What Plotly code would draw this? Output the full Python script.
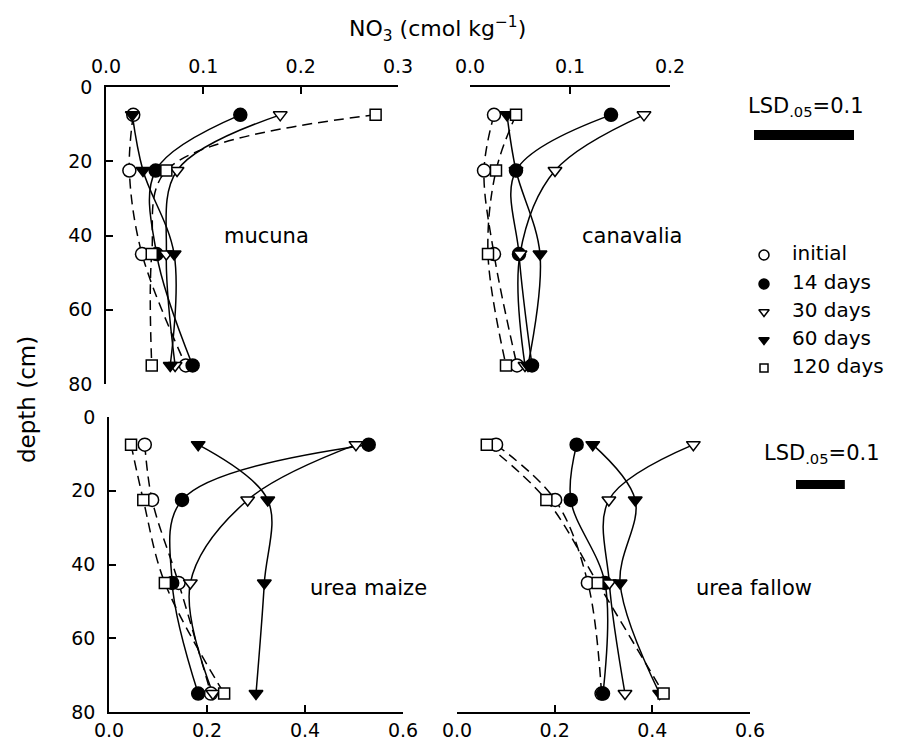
import plotly.graph_objects as go

W, H = 901, 747

depth = [7.5, 22.5, 45, 75]
series_names = ["initial", "14 days", "30 days", "60 days", "120 days"]

mucuna_initial = [0.028, 0.024, 0.037, 0.082]
mucuna_d14 = [0.138, 0.051, 0.052, 0.089]
mucuna_d30 = [0.179, 0.073, 0.062, 0.071]
mucuna_d60 = [0.027, 0.038, 0.070, 0.066]
mucuna_d120 = [0.277, 0.062, 0.047, 0.047]

canavalia_initial = [0.024, 0.014, 0.024, 0.047]
canavalia_d14 = [0.141, 0.046, 0.049, 0.062]
canavalia_d30 = [0.174, 0.085, 0.050, 0.055]
canavalia_d60 = [0.037, 0.046, 0.070, 0.058]
canavalia_d120 = [0.046, 0.026, 0.018, 0.036]

maize_initial = [0.073, 0.088, 0.142, 0.208]
maize_d14 = [0.530, 0.149, 0.129, 0.182]
maize_d30 = [0.504, 0.283, 0.166, 0.212]
maize_d60 = [0.182, 0.324, 0.317, 0.300]
maize_d120 = [0.045, 0.070, 0.114, 0.235]

fallow_initial = [0.080, 0.201, 0.268, 0.296]
fallow_d14 = [0.245, 0.233, 0.303, 0.299]
fallow_d30 = [0.484, 0.311, 0.312, 0.344]
fallow_d60 = [0.278, 0.365, 0.334, 0.415]
fallow_d120 = [0.061, 0.183, 0.288, 0.423]

panel_labels = ["mucuna", "canavalia", "urea maize", "urea fallow"]
lsd_value = 0.1

panels = [
    [mucuna_initial, mucuna_d14, mucuna_d30, mucuna_d60, mucuna_d120],
    [canavalia_initial, canavalia_d14, canavalia_d30, canavalia_d60, canavalia_d120],
    [maize_initial, maize_d14, maize_d30, maize_d60, maize_d120],
    [fallow_initial, fallow_d14, fallow_d30, fallow_d60, fallow_d120],
]

# styles
symbols = ["circle", "circle", "triangle-down", "triangle-down", "square"]
fills = ["white", "black", "white", "black", "white"]
msizes = [13, 13, 12, 12, 11]
dashes = ["10px,6px", "solid", "solid", "solid", "10px,6px"]

FONT = "DejaVu Sans"

# pixel boxes of the panels: (x0, x1, ytop, ybottom)
boxes = [
    (106, 398, 87, 384),
    (470, 670, 87, 384),
    (109, 403, 417, 712),
    (457, 750, 417, 712),
]
xranges = [[0, 0.3], [0, 0.2], [0, 0.6], [0, 0.6]]
xdticks = [0.1, 0.1, 0.2, 0.2]
label_pos = [(0.165, 40, 0), (0.162, 40, 0), (0.53, 46.5, 0), (0.59, 46.5, 9)]

# legend block placement (pixels)
legend_marker_x = 764
legend_text_x = 792
legend_rows = [255, 284, 312, 340, 368]

fig = go.Figure()

for i, data in enumerate(panels):
    xa = "x" if i == 0 else f"x{i+1}"
    ya = "y" if i == 0 else f"y{i+1}"
    for s in range(5):
        fig.add_trace(go.Scatter(
            x=data[s], y=depth, xaxis=xa, yaxis=ya, mode="lines",
            line=dict(color="black", width=1.5, shape="spline", smoothing=1.0, dash=dashes[s]),
            showlegend=False, hoverinfo="skip"))
    for s in range(5):
        fig.add_trace(go.Scatter(
            x=data[s], y=depth, xaxis=xa, yaxis=ya, mode="markers",
            marker=dict(symbol=symbols[s], size=msizes[s], color=fills[s],
                        line=dict(color="black", width=1.5)),
            showlegend=False, cliponaxis=False))

# legend drawn on a hidden pixel-space overlay axis
for s in range(5):
    fig.add_trace(go.Scatter(
        x=[legend_marker_x], y=[legend_rows[s]], xaxis="x5", yaxis="y5",
        mode="markers",
        marker=dict(symbol=symbols[s], size=msizes[s] - 3, color=fills[s],
                    line=dict(color="black", width=1.5)),
        showlegend=False, cliponaxis=False, hoverinfo="skip"))
fig.add_trace(go.Scatter(
    x=[legend_text_x] * 5, y=legend_rows, xaxis="x5", yaxis="y5",
    mode="text", text=series_names, textposition="middle right",
    textfont=dict(size=20, family=FONT, color="black"),
    showlegend=False, cliponaxis=False, hoverinfo="skip"))

layout = dict(
    width=W, height=H, margin=dict(l=0, r=0, t=0, b=0, pad=0, autoexpand=False),
    paper_bgcolor="white", plot_bgcolor="rgba(0,0,0,0)",
    font=dict(family=FONT, size=19, color="black"),
    showlegend=False,
    xaxis5=dict(domain=[0, 1], range=[0, W], anchor="y5", visible=False, fixedrange=True),
    yaxis5=dict(domain=[0, 1], range=[H, 0], anchor="x5", visible=False, fixedrange=True),
)

for i, (x0, x1, yt, yb) in enumerate(boxes):
    xk = "xaxis" if i == 0 else f"xaxis{i+1}"
    yk = "yaxis" if i == 0 else f"yaxis{i+1}"
    ya = "y" if i == 0 else f"y{i+1}"
    xa = "x" if i == 0 else f"x{i+1}"
    top = i < 2
    left = i in (0, 2)
    layout[xk] = dict(
        domain=[x0 / W, x1 / W], range=xranges[i], anchor=ya,
        side="top" if top else "bottom", automargin=False,
        showline=True, linecolor="black", linewidth=1.5,
        ticks="inside", ticklen=7, tickwidth=1.5, tickcolor="black",
        dtick=xdticks[i], tick0=0, tickformat=".1f",
        showgrid=False, zeroline=False,
        ticklabelstandoff=5 if top else 0,
        tickfont=dict(size=19, family=FONT),
    )
    layout[yk] = dict(
        domain=[1 - yb / H, 1 - yt / H], range=[80, 0], anchor=xa, automargin=False,
        showline=left, linecolor="black", linewidth=1.5,
        ticks="inside" if left else "", ticklen=7, tickwidth=1.5, tickcolor="black",
        dtick=20, tick0=0, showticklabels=left,
        showgrid=False, zeroline=False,
        ticklabelstandoff=8,
        tickfont=dict(size=19, family=FONT),
    )

fig.update_layout(**layout)

annotations = []
for i, (lx, ly, sh) in enumerate(label_pos):
    xa = "x" if i == 0 else f"x{i+1}"
    ya = "y" if i == 0 else f"y{i+1}"
    annotations.append(dict(x=lx, y=ly, xref=xa, yref=ya, text=panel_labels[i],
                            showarrow=False, font=dict(size=21, family=FONT),
                            xanchor="center", yanchor="middle", xshift=sh))

annotations.append(dict(x=437 / W, y=1 - 29 / H, xref="paper", yref="paper",
                        text="NO<sub>3</sub> (cmol kg<sup>−1</sup>)", showarrow=False,
                        font=dict(size=22, family=FONT), xanchor="center", yanchor="middle"))
annotations.append(dict(x=27 / W, y=1 - 400 / H, xref="paper", yref="paper",
                        text="depth (cm)", showarrow=False, textangle=-90,
                        font=dict(size=23, family=FONT), xanchor="center", yanchor="middle"))
annotations.append(dict(x=806 / W, y=1 - 107 / H, xref="paper", yref="paper",
                        text="LSD<sub>.05</sub>=0.1", showarrow=False,
                        font=dict(size=21, family=FONT), xanchor="center", yanchor="middle"))
annotations.append(dict(x=822 / W, y=1 - 454 / H, xref="paper", yref="paper",
                        text="LSD<sub>.05</sub>=0.1", showarrow=False,
                        font=dict(size=21, family=FONT), xanchor="center", yanchor="middle"))
fig.update_layout(annotations=annotations)

def bar_len_paper(i):
    x0, x1, _, _ = boxes[i]
    return lsd_value * (x1 - x0) / (xranges[i][1] - xranges[i][0]) / W

shapes = []
bx0 = 754 / W
shapes.append(dict(type="rect", xref="paper", yref="paper",
                   x0=bx0, x1=bx0 + bar_len_paper(1), y0=1 - 140 / H, y1=1 - 130 / H,
                   fillcolor="black", line=dict(width=0)))
bx1 = 796 / W
shapes.append(dict(type="rect", xref="paper", yref="paper",
                   x0=bx1, x1=bx1 + bar_len_paper(3), y0=1 - 489 / H, y1=1 - 480 / H,
                   fillcolor="black", line=dict(width=0)))
fig.update_layout(shapes=shapes)

fig.write_html("out.html")
